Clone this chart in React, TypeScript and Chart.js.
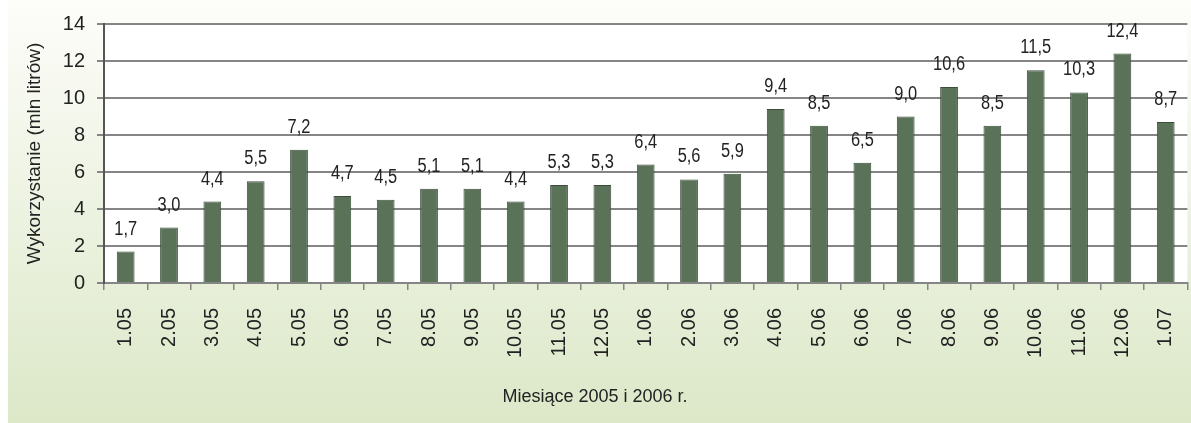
import React, { useEffect, useRef } from "react";
import { Chart, registerables } from "chart.js";

Chart.register(...registerables);

// Months of 2005–2006 (plus January 2007)
const months = [
  "1.05", "2.05", "3.05", "4.05", "5.05", "6.05", "7.05", "8.05", "9.05", "10.05", "11.05", "12.05",
  "1.06", "2.06", "3.06", "4.06", "5.06", "6.06", "7.06", "8.06", "9.06", "10.06", "11.06", "12.06",
  "1.07",
];

// Usage in millions of litres
const usage = [
  1.7, 3.0, 4.4, 5.5, 7.2, 4.7, 4.5, 5.1, 5.1, 4.4, 5.3, 5.3,
  6.4, 5.6, 5.9, 9.4, 8.5, 6.5, 9.0, 10.6, 8.5, 11.5, 10.3, 12.4,
  8.7,
];

const yTicks = [0, 2, 4, 6, 8, 10, 12, 14];

const xTitle = "Miesiące 2005 i 2006 r.";
const yTitle = "Wykorzystanie (mln litrów)";

const TEXT = "#222222";
const GRID = "#858585";
const FONT = "'Liberation Sans', Arial, sans-serif";

const plotBackground = {
  id: "plotBackground",
  beforeDraw(chart: any) {
    const { ctx, chartArea } = chart;
    ctx.save();
    ctx.fillStyle = "#ffffff";
    ctx.fillRect(chartArea.left, chartArea.top, chartArea.right - chartArea.left, chartArea.bottom - chartArea.top);
    ctx.restore();
  },
};

// Value above each bar, in a slightly condensed face
const valueLabels = {
  id: "valueLabels",
  afterDatasetsDraw(chart: any) {
    const { ctx } = chart;
    const meta = chart.getDatasetMeta(0);
    const data = chart.data.datasets[0].data as number[];
    ctx.save();
    ctx.fillStyle = TEXT;
    ctx.font = `20px ${FONT}`;
    ctx.textAlign = "center";
    ctx.textBaseline = "alphabetic";
    meta.data.forEach((bar: any, i: number) => {
      ctx.save();
      ctx.translate(bar.x, bar.y - 17);
      ctx.scale(0.82, 1);
      ctx.fillText(data[i].toFixed(1).replace(".", ","), 0, 0);
      ctx.restore();
    });
    ctx.restore();
  },
};

// Category-axis title, centred on the whole figure
const bottomTitle = {
  id: "bottomTitle",
  afterDraw(chart: any) {
    const { ctx } = chart;
    ctx.save();
    ctx.fillStyle = TEXT;
    ctx.font = `18px ${FONT}`;
    ctx.textAlign = "center";
    ctx.textBaseline = "middle";
    ctx.fillText(xTitle, 587, 397);
    ctx.restore();
  },
};

export default function App() {
  const canvasRef = useRef<HTMLCanvasElement | null>(null);

  useEffect(() => {
    if (!canvasRef.current) return;
    const chart = new Chart(canvasRef.current, {
      type: "bar",
      data: {
        labels: months,
        datasets: [
          {
            data: usage,
            backgroundColor: "#5a7358",
            borderColor: "#3c4d3b",
            borderWidth: 1,
            barPercentage: 0.41,
            categoryPercentage: 1,
          },
        ],
      },
      options: {
        responsive: false,
        animation: false,
        devicePixelRatio: 1,
        layout: { padding: { left: 0, right: 14, top: 24, bottom: 0 } },
        plugins: {
          legend: { display: false },
          tooltip: { enabled: false },
        },
        scales: {
          x: {
            afterFit(scale: any) {
              scale.height = 140;
            },
            grid: {
              display: true,
              drawOnChartArea: false,
              drawTicks: true,
              tickLength: 7,
              color: GRID,
              lineWidth: 1.5,
            },
            border: { display: true, color: GRID, width: 2 },
            ticks: {
              color: TEXT,
              font: { family: FONT, size: 20 },
              minRotation: 90,
              maxRotation: 90,
              autoSkip: false,
              padding: 18,
            },
          },
          y: {
            min: 0,
            max: 14,
            afterFit(scale: any) {
              scale.width = 96;
            },
            afterBuildTicks(scale: any) {
              scale.ticks = yTicks.map((v) => ({ value: v }));
            },
            grid: {
              color: GRID,
              lineWidth: 2,
              tickLength: 7,
              drawTicks: true,
            },
            border: { display: true, color: "#555555", width: 2 },
            ticks: {
              color: TEXT,
              font: { family: FONT, size: 20 },
              padding: 12,
            },
            title: {
              display: true,
              text: yTitle,
              color: TEXT,
              font: { family: FONT, size: 19 },
              padding: { top: 15, bottom: 0 },
            },
          },
        },
      },
      plugins: [plotBackground, valueLabels, bottomTitle],
    });
    return () => chart.destroy();
  }, []);

  return (
    <div
      style={{
        position: "fixed",
        left: 8,
        top: 0,
        right: 0,
        bottom: 0,
        overflow: "hidden",
        background: "linear-gradient(to bottom, #fdfdfa 0%, #dce8c8 100%)",
      }}
    >
      <canvas ref={canvasRef} width={1200} height={423} style={{ display: "block", width: 1200, height: 423 }} />
    </div>
  );
}
